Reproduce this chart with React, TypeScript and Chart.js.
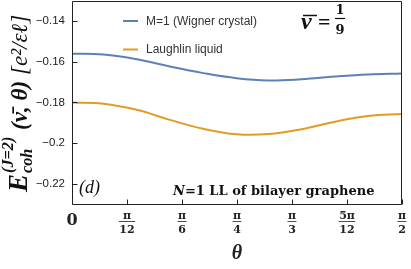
import React, { useEffect, useRef } from 'react';
import { Chart, registerables } from 'chart.js';

Chart.register(...registerables);

// ---- data ----
const thetaValues = [0, 0.149, 0.308, 0.466, 0.625, 0.784, 0.934, 1.093, 1.252, 1.41, 1.571];
const wignerValues = [-0.1561, -0.1565, -0.1588, -0.1624, -0.1656, -0.1681, -0.1692, -0.1686, -0.1673, -0.1663, -0.1658];
const laughlinValues = [-0.18, -0.1806, -0.1836, -0.1885, -0.1929, -0.1956, -0.1955, -0.1931, -0.1894, -0.1866, -0.1856];
const seriesLabels = ['M=1 (Wigner crystal)', 'Laughlin liquid'];
const seriesColors = ['#5E81B5', '#E19C24'];
const yTickValues = [-0.22, -0.2, -0.18, -0.16, -0.14];
const xTickMultiples = [0, 1, 2, 3, 4, 5, 6]; // multiples of pi/12
const xTickLabels = [['0'], ['π', '12'], ['π', '6'], ['π', '4'], ['π', '3'], ['5π', '12'], ['π', '2']];
const yRange = [-0.23, -0.13];

const SERIF = '"Liberation Serif", "DejaVu Serif", serif';
const DSERIF = '"DejaVu Serif", "Liberation Serif", serif';
const SANS = '"Liberation Sans", Arial, sans-serif';
const INK = '#222';

const fmtY = (v: number) => String(Number(v.toFixed(2))).replace('-', '\u2212');

const decorPlugin = {
  id: 'decor',
  afterDraw(chart: any) {
    const { ctx, chartArea: ca, scales } = chart;
    const xs = scales.x;
    const ys = scales.y;
    const L = Math.round(ca.left) + 0.5;
    const R = Math.round(ca.right) - 0.5;
    const T = Math.round(ca.top) + 0.5;
    const B = Math.round(ca.bottom) - 0.5;
    ctx.save();
    // frame
    ctx.strokeStyle = INK;
    ctx.lineWidth = 1;
    ctx.beginPath();
    ctx.moveTo(L, T);
    ctx.lineTo(R, T);
    ctx.lineTo(R, B);
    ctx.lineTo(L, B);
    ctx.closePath();
    ctx.stroke();
    // inward ticks
    ctx.beginPath();
    ys.ticks.forEach((t: any) => {
      const y = Math.round(ys.getPixelForValue(t.value)) + 0.5;
      ctx.moveTo(L, y);
      ctx.lineTo(L + 5, y);
    });
    xs.ticks.forEach((t: any) => {
      const x = Math.round(xs.getPixelForValue(t.value)) + 0.5;
      ctx.moveTo(x, B);
      ctx.lineTo(x, B - 5);
    });
    ctx.stroke();

    // fraction bars under x tick numerators
    ctx.font = `bold 11px ${DSERIF}`;
    ctx.lineWidth = 0.8;
    xs.ticks.forEach((t: any, i: number) => {
      const lab = xTickLabels[i];
      if (!lab || lab.length < 2) return;
      const x = xs.getPixelForValue(t.value);
      const w = Math.max(ctx.measureText(lab[0]).width, ctx.measureText(lab[1]).width) + 1;
      const y = Math.round(ca.bottom + 16) + 0.5;
      ctx.beginPath();
      ctx.moveTo(x - w / 2, y);
      ctx.lineTo(x + w / 2, y);
      ctx.stroke();
    });

    // legend
    chart.data.datasets.forEach((ds: any, i: number) => {
      const y = ca.top + 20.5 + i * 28.5;
      ctx.strokeStyle = ds.borderColor;
      ctx.lineWidth = 2;
      ctx.beginPath();
      ctx.moveTo(ca.left + 51, y);
      ctx.lineTo(ca.left + 66, y);
      ctx.stroke();
      ctx.fillStyle = '#333';
      ctx.font = `12px ${SANS}`;
      ctx.textBaseline = 'middle';
      ctx.textAlign = 'left';
      ctx.fillText(ds.label, ca.left + 74, y + 0.5);
    });

    // nu-bar = 1/9
    ctx.fillStyle = '#111';
    ctx.strokeStyle = '#111';
    ctx.textBaseline = 'alphabetic';
    ctx.textAlign = 'left';
    ctx.font = `italic bold 24px ${SERIF}`;
    ctx.fillText('ν', 301, 29);
    ctx.lineWidth = 1.5;
    ctx.beginPath();
    ctx.moveTo(303, 15.5);
    ctx.lineTo(317, 15.5);
    ctx.stroke();
    ctx.font = `bold 22px ${SERIF}`;
    ctx.fillText('=', 318, 29);
    ctx.font = `bold 13px ${DSERIF}`;
    ctx.textAlign = 'center';
    ctx.fillText('1', 340, 14);
    ctx.fillText('9', 340, 34);
    ctx.lineWidth = 1.2;
    ctx.beginPath();
    ctx.moveTo(335, 18.5);
    ctx.lineTo(345, 18.5);
    ctx.stroke();

    // (d)
    ctx.textAlign = 'left';
    ctx.font = `italic 18px ${SERIF}`;
    ctx.fillText('(d)', ca.left + 7, 193);

    // N=1 LL of bilayer graphene (fit into reference width)
    const lbl = '=1 LL of bilayer graphene';
    ctx.font = `italic bold 13px ${DSERIF}`;
    const wN0 = ctx.measureText('N').width;
    ctx.font = `bold 13px ${DSERIF}`;
    const wL0 = ctx.measureText(lbl).width;
    const sz = Math.min(13, (13 * 210) / (wN0 + wL0));
    ctx.font = `italic bold ${sz}px ${DSERIF}`;
    ctx.fillText('N', 173, 195);
    const wN = ctx.measureText('N').width;
    ctx.font = `bold ${sz}px ${DSERIF}`;
    ctx.fillText(lbl, 173 + wN, 195);

    // y-axis title (rotated, with super/subscripts), scaled to reference length
    const rest1 = ' (ν\u0304, θ) ';
    const rest2 = '[e²/εℓ]';
    const measure = (k: number) => {
      ctx.font = `italic bold ${20 * k}px ${SERIF}`;
      const wE = ctx.measureText('E').width;
      ctx.font = `italic bold ${12 * k}px ${SERIF}`;
      const wS = Math.max(ctx.measureText('(J=2)').width, ctx.measureText('coh').width);
      ctx.font = `italic bold ${17 * k}px ${SERIF}`;
      const w1 = ctx.measureText(rest1).width;
      ctx.font = `italic ${17 * k}px ${SERIF}`;
      const w2 = ctx.measureText(rest2).width;
      return { wE, wS, w1, w2, total: wE + wS + 2 + w1 + w2 };
    };
    const m0 = measure(1);
    const k = 178 / m0.total;
    const m = measure(k);
    ctx.translate(27, (ca.top + ca.bottom) / 2 + 1);
    ctx.rotate(-Math.PI / 2);
    ctx.textAlign = 'left';
    let x0 = -m.total / 2;
    ctx.font = `italic bold ${20 * k}px ${SERIF}`;
    ctx.fillText('E', x0, 0);
    x0 += m.wE + 1;
    ctx.font = `italic bold ${12 * k}px ${SERIF}`;
    ctx.fillText('(J=2)', x0, -10 * k);
    ctx.fillText('coh', x0, 4 * k);
    x0 += m.wS + 1;
    ctx.font = `italic bold ${17 * k}px ${SERIF}`;
    ctx.fillText(rest1, x0, 0);
    x0 += m.w1;
    ctx.font = `italic ${17 * k}px ${SERIF}`;
    ctx.fillText(rest2, x0, 0);
    ctx.restore();
  },
};

export default function App() {
  const ref = useRef<HTMLCanvasElement | null>(null);
  useEffect(() => {
    if (!ref.current) return;
    const chart = new Chart(ref.current, {
      type: 'line',
      data: {
        datasets: [
          {
            label: seriesLabels[0],
            data: thetaValues.map((t, i) => ({ x: t, y: wignerValues[i] })),
            borderColor: seriesColors[0],
            backgroundColor: seriesColors[0],
            borderWidth: 2,
            pointRadius: 0,
            tension: 0.4,
          },
          {
            label: seriesLabels[1],
            data: thetaValues.map((t, i) => ({ x: t, y: laughlinValues[i] })),
            borderColor: seriesColors[1],
            backgroundColor: seriesColors[1],
            borderWidth: 2,
            pointRadius: 0,
            tension: 0.4,
          },
        ],
      },
      options: {
        animation: false,
        responsive: true,
        maintainAspectRatio: false,
        devicePixelRatio: 1,
        layout: { padding: { top: 0.5, right: 9, bottom: 0, left: 0 } },
        plugins: { legend: { display: false }, tooltip: { enabled: false } },
        scales: {
          x: {
            type: 'linear',
            min: 0,
            max: Math.PI / 2,
            afterBuildTicks: (s: any) => {
              s.ticks = xTickMultiples.map((mm) => ({ value: (mm * Math.PI) / 12 }));
            },
            afterFit: (s: any) => {
              s.height = 64.5;
              s.paddingLeft = 0;
              s.paddingRight = 0;
            },
            grid: { display: false, drawTicks: false },
            border: { display: false },
            ticks: {
              autoSkip: false,
              maxRotation: 0,
              padding: 5,
              color: INK,
              font: (c: any) =>
                c.index === 0
                  ? { family: DSERIF, size: 16, weight: 'bold', lineHeight: 22 / 16 }
                  : { family: DSERIF, size: 11, weight: 'bold', lineHeight: 13.5 / 11 },
              callback: (_v: any, i: number) => xTickLabels[i],
            },
            title: {
              display: true,
              text: 'θ',
              color: INK,
              font: { family: SERIF, size: 20, style: 'italic', weight: 'bold' },
              padding: { top: 0, bottom: 3 },
            },
          },
          y: {
            type: 'linear',
            min: yRange[0],
            max: yRange[1],
            afterBuildTicks: (s: any) => {
              s.ticks = yTickValues.map((v) => ({ value: v }));
            },
            afterFit: (s: any) => {
              s.width = 72;
              s.paddingTop = 0;
              s.paddingBottom = 0;
            },
            grid: { display: false, drawTicks: false },
            border: { display: false },
            ticks: {
              padding: 7,
              color: INK,
              font: { family: SANS, size: 11.5 },
              callback: (v: any) => fmtY(Number(v)),
            },
          },
        },
      },
      plugins: [decorPlugin],
    } as any);
    return () => chart.destroy();
  }, []);
  return (
    <div style={{ position: 'fixed', left: 0, top: 0, width: 411, height: 269 }}>
      <canvas ref={ref} />
    </div>
  );
}
